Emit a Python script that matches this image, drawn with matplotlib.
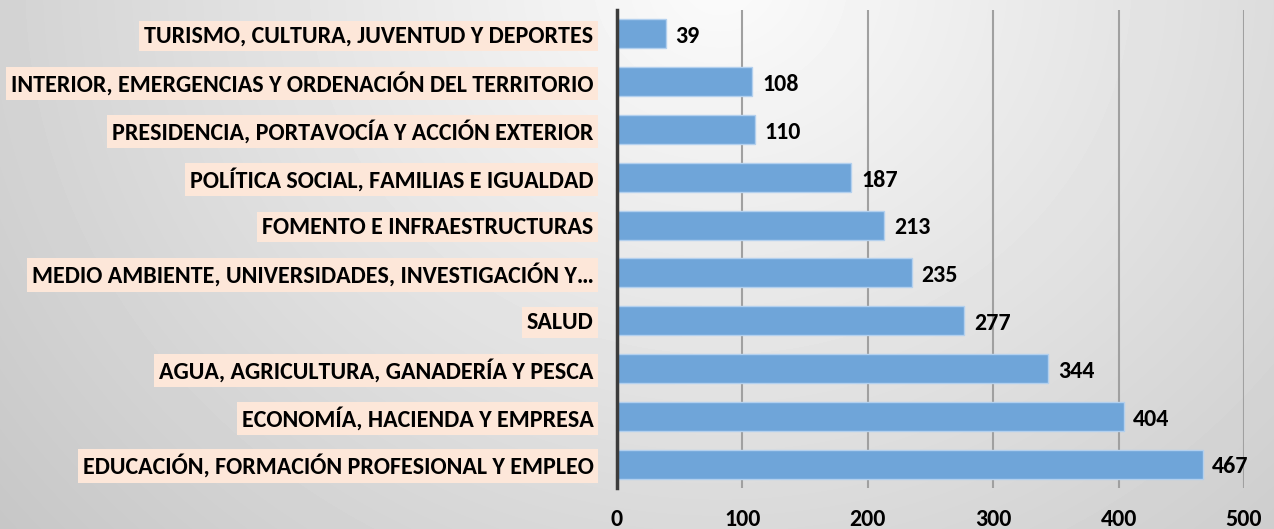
import numpy as np
import matplotlib
matplotlib.use("Agg")
import matplotlib.pyplot as plt

categories = [
    "EDUCACIÓN, FORMACIÓN PROFESIONAL Y EMPLEO",
    "ECONOMÍA, HACIENDA Y EMPRESA",
    "AGUA, AGRICULTURA, GANADERÍA Y PESCA",
    "SALUD",
    "MEDIO AMBIENTE, UNIVERSIDADES, INVESTIGACIÓN Y…",
    "FOMENTO E INFRAESTRUCTURAS",
    "POLÍTICA SOCIAL, FAMILIAS E IGUALDAD",
    "PRESIDENCIA, PORTAVOCÍA Y ACCIÓN EXTERIOR",
    "INTERIOR, EMERGENCIAS Y ORDENACIÓN DEL TERRITORIO",
    "TURISMO, CULTURA, JUVENTUD Y DEPORTES",
]
values = [467, 404, 344, 277, 235, 213, 187, 110, 108, 39]
xticks = [0, 100, 200, 300, 400, 500]

plt.rcParams["font.family"] = ["Carlito", "Lato", "DejaVu Sans"]
plt.rcParams["font.weight"] = "bold"

W, H = 1274, 529
fig = plt.figure(figsize=(W / 100, H / 100), dpi=100)

# size the font so the longest label is as wide as in the reference (~583 px)
probe = fig.text(0, 0, categories[8], fontsize=10, fontweight="bold")
fig.canvas.draw()
fs = 10 * 583 / probe.get_window_extent().width
probe.remove()

# radial grey background, lightest at top centre
bg = fig.add_axes([0, 0, 1, 1], zorder=-10)
yy, xx = np.mgrid[0:H, 0:W]
r = np.hypot(xx - 720, (yy + 20) * 1.1)
shade = np.clip(0.985 - 2.2e-4 * r, 0, 1)
bg.imshow(shade, cmap="gray", vmin=0, vmax=1, aspect="auto",
          extent=[0, 1, 0, 1], origin="upper")
bg.set_axis_off()

ax = fig.add_axes([617 / W, 1 - 488 / H, 627 / W, 478 / H])
ax.patch.set_alpha(0)
y = np.arange(len(categories))
ax.barh(y, values, height=0.61, color="#6fa5d9", edgecolor="#b3d0ee",
        linewidth=1.0, zorder=3)
for yi, v in zip(y, values):
    ax.annotate(str(v), (v, yi), xytext=(7, -2), textcoords="offset points",
                ha="left", va="center", fontsize=fs, fontweight="bold",
                color="black", zorder=4)

ax.set_xlim(0, 500)
ax.set_ylim(-0.5, len(categories) - 0.5)
ax.set_xticks(xticks)
ax.set_xticklabels([str(t) for t in xticks], fontsize=fs, fontweight="bold")
ax.set_yticks(y)
ax.set_yticklabels(categories, fontsize=fs, fontweight="bold")
for lbl in ax.get_yticklabels():
    lbl.set_bbox(dict(facecolor="#fde7d9", edgecolor="none", pad=3.5))
ax.tick_params(axis="y", length=0, pad=17)
ax.tick_params(axis="x", length=0, pad=15)

ax.grid(True, axis="x", color="#a0a0a0", linewidth=1.5, zorder=0)
for side in ("top", "right", "bottom"):
    ax.spines[side].set_visible(False)
ax.spines["left"].set_color("#3c3c3c")
ax.spines["left"].set_linewidth(2.5)
ax.spines["left"].set_zorder(5)

fig.savefig("out.png", dpi=100)
